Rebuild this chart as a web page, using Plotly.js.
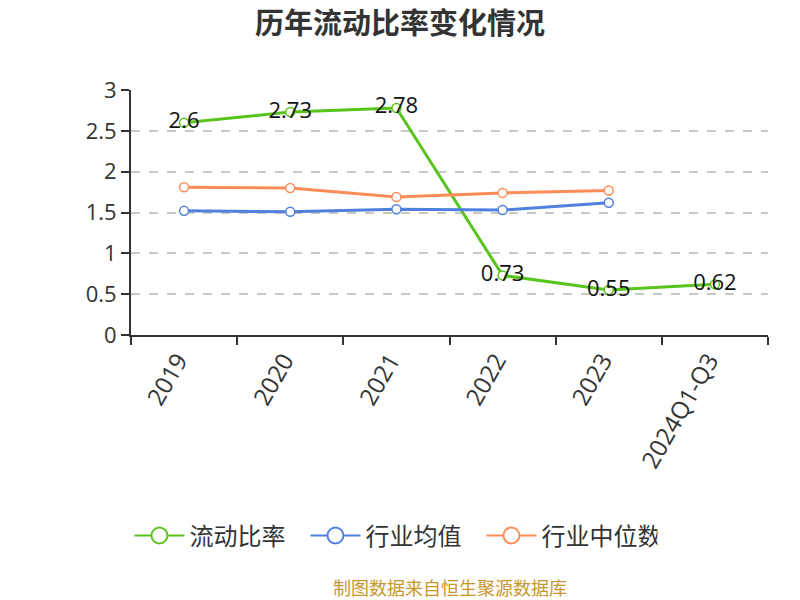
<!DOCTYPE html>
<html>
<head>
<meta charset="utf-8">
<script src="https://cdn.plot.ly/plotly-3.0.1.min.js"></script>
<style>body{margin:0;padding:0;}#chart{width:800px;height:600px;}</style>
</head>
<body>
<div id="chart"></div>
<script>
const categories = ["2019", "2020", "2021", "2022", "2023", "2024Q1-Q3"];
const currentRatio = [2.6, 2.73, 2.78, 0.73, 0.55, 0.62];
const industryAvg = [1.52, 1.51, 1.54, 1.53, 1.62];
const industryMedian = [1.81, 1.80, 1.69, 1.74, 1.77];
const seriesNames = ["流动比率", "行业均值", "行业中位数"];

const font = "'Open Sans', 'Noto Sans CJK SC', sans-serif";
const cjk = "'Noto Sans CJK SC', sans-serif";
const colors = ["#58c41c", "#4f80e0", "#fd8c58"];

function mk(name, y, color, withText) {
  const t = {
    type: "scatter",
    mode: withText ? "lines+markers+text" : "lines+markers",
    name: name,
    showlegend: false,
    x: categories.slice(0, y.length),
    y: y,
    line: {color: color, width: 3},
    marker: {symbol: "circle", size: 9, color: "#ffffff", line: {color: color, width: 1.5}},
    cliponaxis: false
  };
  if (withText) {
    t.text = y.map(v => String(v));
    t.textposition = "middle center";
    t.textfont = {family: font, size: 22, color: "#111"};
  }
  return t;
}
function legendOnly(name, color) {
  return {
    type: "scatter", mode: "lines+markers", name: name,
    x: [null], y: [null],
    line: {color: color, width: 2},
    marker: {symbol: "circle", size: 16, color: "#ffffff", line: {color: color, width: 2}}
  };
}

const data = [
  mk(seriesNames[0], currentRatio, colors[0], true),
  mk(seriesNames[1], industryAvg, colors[1], false),
  mk(seriesNames[2], industryMedian, colors[2], false),
  legendOnly(seriesNames[0], colors[0]),
  legendOnly(seriesNames[1], colors[1]),
  legendOnly(seriesNames[2], colors[2])
];

const layout = {
  width: 800, height: 600,
  margin: {l: 131, r: 32, t: 90, b: 265},
  paper_bgcolor: "#fff", plot_bgcolor: "#fff",
  font: {family: font, color: "#333"},
  title: {text: "<b>历年流动比率变化情况</b>", x: 0.5, xanchor: "center", y: 0.96, yanchor: "middle",
          font: {family: cjk, size: 29, color: "#333"}},
  xaxis: {
    type: "category",
    range: [-0.5, 5.5],
    showline: true, linecolor: "#333", linewidth: 2,
    ticks: "outside", tickcolor: "#333", ticklen: 8, tickwidth: 2,
    tickson: "boundaries",
    tickangle: -60,
    ticklabelshift: -6,
    tickfont: {family: font, size: 24, color: "#333"},
    showgrid: false, zeroline: false
  },
  yaxis: {
    range: [0, 3],
    dtick: 0.5,
    showline: true, linecolor: "#333", linewidth: 2,
    ticks: "outside", tickcolor: "#333", ticklen: 8, tickwidth: 2,
    tickfont: {family: font, size: 22, color: "#333"},
    showgrid: true, gridcolor: "#c8c8c8", griddash: "dash", gridwidth: 1.5,
    zeroline: false
  },
  showlegend: true,
  legend: {orientation: "h", x: 0.412, xanchor: "center", y: -0.82, yanchor: "middle",
           font: {family: cjk, size: 24, color: "#333"}, itemwidth: 50,
           entrywidth: 111, entrywidthmode: "pixels"},
  annotations: [{
    text: "制图数据来自恒生聚源数据库", xref: "paper", yref: "paper",
    x: 0.5, xanchor: "center", y: -1.03, yanchor: "middle", showarrow: false,
    font: {family: cjk, size: 18, color: "#c8962a"}
  }]
};

Plotly.newPlot("chart", data, layout, {displayModeBar: false});
</script>
</body>
</html>
